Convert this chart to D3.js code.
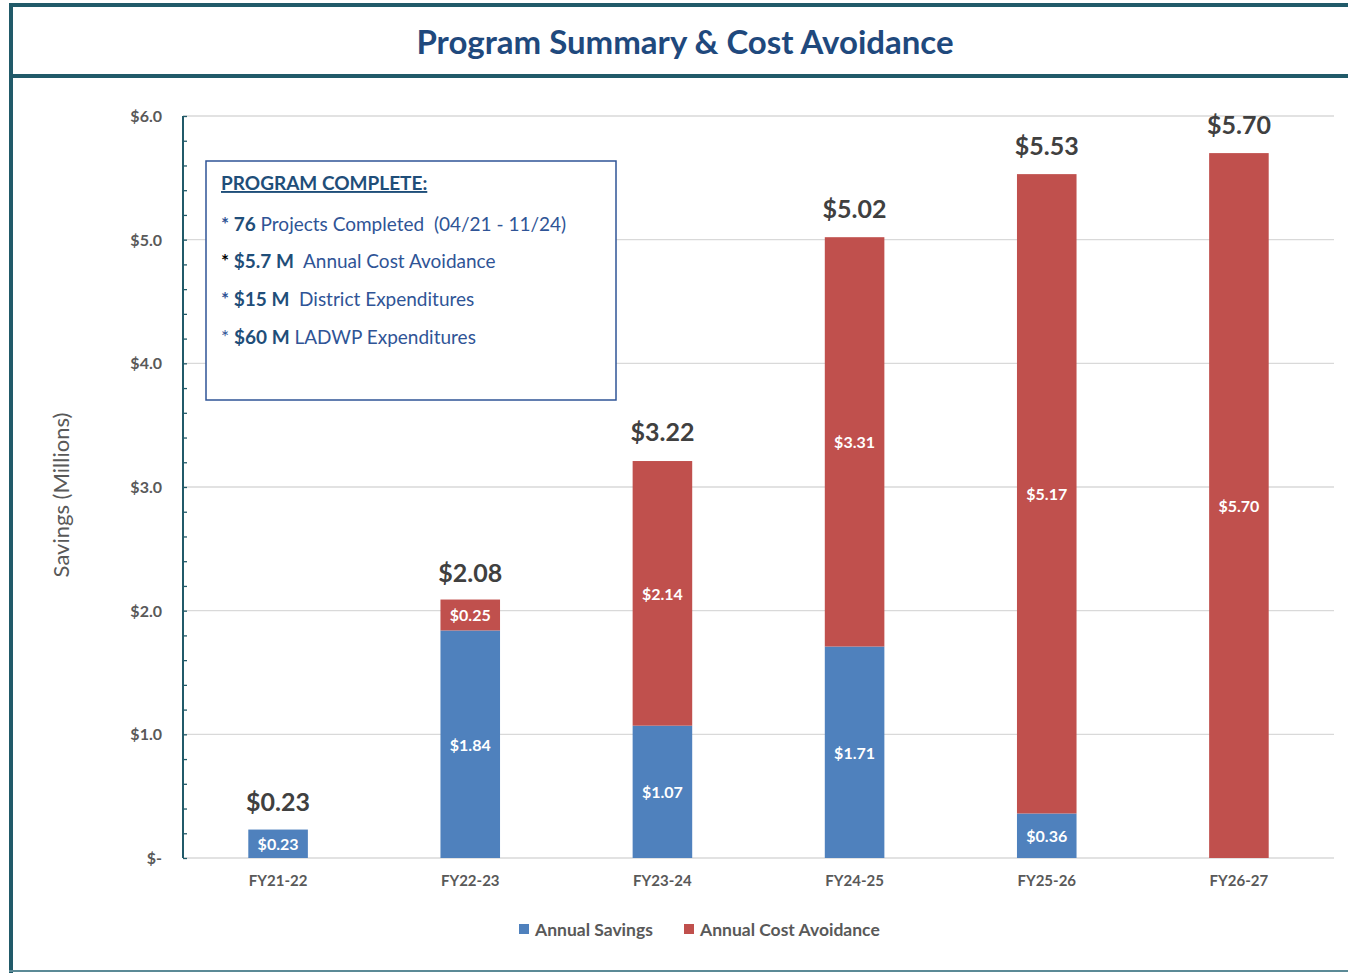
<!DOCTYPE html>
<html lang="en">
<head>
    <meta charset="UTF-8">
    <title>Program Summary & Cost Avoidance</title>
    <script src="https://d3js.org/d3.v7.min.js"></script>
    <style>
        body { margin: 0; background: #fff; font-family: Lato, "Open Sans", sans-serif; }
        .tick-label { font-size: 16px; font-weight: bold; fill: #595959; }
        .seg-label { font-size: 16px; font-weight: bold; fill: #fff; text-anchor: middle; }
        .total-label { font-size: 25px; font-weight: bold; fill: #404040; text-anchor: middle; }
        .legend text { font-size: 17.5px; font-weight: bold; fill: #595959; }
        .note { font-size: 19px; fill: #2F5496; }
        .note .b { font-weight: bold; fill: #1F4E79; }
    </style>
</head>
<body>
<svg id="svg" width="1348" height="973"></svg>
<script>
    // Data
    const categories = ["FY21-22", "FY22-23", "FY23-24", "FY24-25", "FY25-26", "FY26-27"];
    const annualSavings = [0.23, 1.84, 1.07, 1.71, 0.36, 0];
    const costAvoidance = [0, 0.25, 2.14, 3.31, 5.17, 5.70];
    const totals = [0.23, 2.08, 3.22, 5.02, 5.53, 5.70];
    const yTicks = [0, 1, 2, 3, 4, 5, 6];
    const seriesNames = ["Annual Savings", "Annual Cost Avoidance"];
    const seriesColors = ["#4F81BD", "#C0504D"];
    const noteLines = [
        [{ t: "* ", s: "a" }, { t: "76", s: "b" }, { t: " Projects Completed  (04/21 - 11/24)", s: "" }],
        [{ t: "* ", s: "k" }, { t: "$5.7 M", s: "b" }, { t: "  Annual Cost Avoidance", s: "" }],
        [{ t: "* ", s: "a" }, { t: "$15 M", s: "b" }, { t: "  District Expenditures", s: "" }],
        [{ t: "* ", s: "" }, { t: "$60 M", s: "b" }, { t: " LADWP Expenditures", s: "" }]
    ];

    const svg = d3.select("#svg");
    const teal = "#215A69";

    // frame
    svg.append("line").attr("x1", 9).attr("x2", 1348).attr("y1", 5).attr("y2", 5)
        .attr("stroke", teal).attr("stroke-width", 4);
    svg.append("line").attr("x1", 11).attr("x2", 11).attr("y1", 3).attr("y2", 973)
        .attr("stroke", teal).attr("stroke-width", 4);
    svg.append("line").attr("x1", 9).attr("x2", 1348).attr("y1", 76).attr("y2", 76)
        .attr("stroke", teal).attr("stroke-width", 4);
    svg.append("line").attr("x1", 9).attr("x2", 1348).attr("y1", 971).attr("y2", 971)
        .attr("stroke", "#5B8A96").attr("stroke-width", 2);

    svg.append("text").attr("x", 685).attr("y", 54)
        .attr("text-anchor", "middle")
        .style("font-size", "33px").style("font-weight", "bold").style("fill", "#1F497D")
        .text("Program Summary & Cost Avoidance");

    // scales
    const x = d3.scaleBand().domain(categories).range([182, 1335]).paddingInner(0.69).paddingOuter(0.345);
    const y = d3.scaleLinear().domain([0, 6]).range([858, 116]);

    // gridlines
    svg.append("g").selectAll("line").data(yTicks.filter(d => d > 0)).join("line")
        .attr("x1", 183).attr("x2", 1334)
        .attr("y1", d => y(d)).attr("y2", d => y(d))
        .attr("stroke", "#D9D9D9").attr("stroke-width", 1.3);
    svg.append("line").attr("x1", 183).attr("x2", 1334).attr("y1", y(0)).attr("y2", y(0))
        .attr("stroke", "#D9D9D9").attr("stroke-width", 1.5);

    // bars
    const stacked = categories.map((c, i) => ({ c, s: annualSavings[i], a: costAvoidance[i] }));
    const bars = svg.append("g");
    bars.selectAll(".sav").data(stacked.filter(d => d.s > 0)).join("rect")
        .attr("x", d => x(d.c)).attr("width", x.bandwidth())
        .attr("y", d => y(d.s)).attr("height", d => y(0) - y(d.s))
        .attr("fill", seriesColors[0]);
    bars.selectAll(".avo").data(stacked.filter(d => d.a > 0)).join("rect")
        .attr("x", d => x(d.c)).attr("width", x.bandwidth())
        .attr("y", d => y(d.s + d.a)).attr("height", d => y(d.s) - y(d.s + d.a))
        .attr("fill", seriesColors[1]);

    // segment labels
    bars.selectAll(".sl").data(stacked.filter(d => d.s > 0)).join("text")
        .attr("class", "seg-label")
        .attr("x", d => x(d.c) + x.bandwidth() / 2)
        .attr("y", d => (y(0) + y(d.s)) / 2 + 6.5)
        .text(d => "$" + d.s.toFixed(2));
    bars.selectAll(".al").data(stacked.filter(d => d.a > 0)).join("text")
        .attr("class", "seg-label")
        .attr("x", d => x(d.c) + x.bandwidth() / 2)
        .attr("y", d => (y(d.s) + y(d.s + d.a)) / 2 + 6.5)
        .text(d => "$" + d.a.toFixed(2));

    // totals
    bars.selectAll(".tl").data(categories).join("text")
        .attr("class", "total-label")
        .attr("x", d => x(d) + x.bandwidth() / 2)
        .attr("y", (d, i) => y(totals[i]) - 19)
        .text((d, i) => "$" + totals[i].toFixed(2));

    // y axis
    const yAxis = svg.append("g").attr("transform", "translate(183,0)")
        .call(d3.axisLeft(y).tickValues(yTicks).tickSize(0).tickPadding(21)
            .tickFormat(d => d === 0 ? "$-" : "$" + d.toFixed(1)));
    yAxis.select(".domain").remove();
    yAxis.selectAll("text").attr("class", "tick-label").attr("dy", "0.35em")
        .style("font-family", "Lato");

    const yMinor = svg.append("g").attr("transform", "translate(183,0)")
        .call(d3.axisRight(y).tickValues(d3.range(0, 31).map(k => k / 5)).tickSize(4).tickFormat(""));
    yMinor.select(".domain").attr("stroke", teal).attr("stroke-width", 2).attr("d", `M0,${y(6)}V${y(0)}`);
    yMinor.selectAll(".tick line").attr("stroke", teal).attr("stroke-width", 1.3);

    // x axis labels
    const xAxis = svg.append("g").attr("transform", `translate(0,${y(0)})`)
        .call(d3.axisBottom(x).tickSize(0).tickPadding(17));
    xAxis.select(".domain").remove();
    xAxis.selectAll("text").attr("class", "tick-label").style("font-family", "Lato").style("font-size", "15px");

    // y title
    svg.append("text").attr("transform", "translate(69,495) rotate(-90)")
        .attr("text-anchor", "middle")
        .style("font-size", "22px").style("fill", "#595959")
        .text("Savings (Millions)");

    // legend
    const legendX = [519, 684];
    const legend = svg.append("g").attr("class", "legend");
    seriesNames.forEach((n, i) => {
        legend.append("rect").attr("x", legendX[i]).attr("y", 924).attr("width", 10).attr("height", 10)
            .attr("fill", seriesColors[i]);
        legend.append("text").attr("x", legendX[i] + 16).attr("y", 935.5).text(n);
    });

    // note box
    svg.append("rect").attr("x", 206).attr("y", 161).attr("width", 410).attr("height", 239)
        .attr("fill", "#fff").attr("stroke", "#2F5496").attr("stroke-width", 1.5);
    svg.append("text").attr("x", 221).attr("y", 190)
        .attr("class", "note")
        .style("font-weight", "bold").style("fill", "#1F4E79").style("text-decoration", "underline")
        .text("PROGRAM COMPLETE:");
    const noteY = [231, 268, 306, 344];
    noteLines.forEach((line, i) => {
        const t = svg.append("text").attr("class", "note").attr("x", 221).attr("y", noteY[i])
            .attr("xml:space", "preserve");
        line.forEach(p => {
            const ts = t.append("tspan").text(p.t);
            if (p.s === "b") ts.attr("class", "b");
            if (p.s === "a") ts.style("font-weight", "bold");
            if (p.s === "k") ts.style("fill", "#000").style("font-weight", "bold");
        });
    });
</script>
</body>
</html>
